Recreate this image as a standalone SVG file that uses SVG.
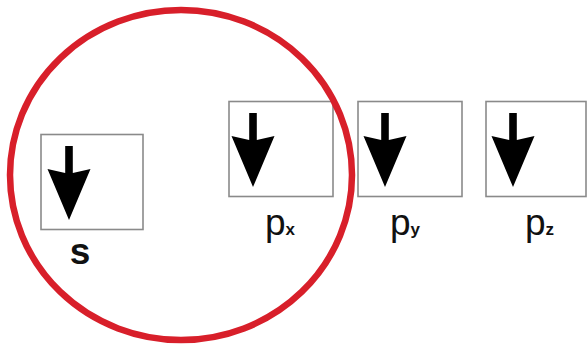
<svg xmlns="http://www.w3.org/2000/svg" xmlns:xlink="http://www.w3.org/1999/xlink" width="587" height="347" viewBox="0 0 587 347">
  <style>
    .box { fill: #ffffff; stroke: #8a8a8a; stroke-width: 1.6; }
    .arrow { fill: #000000; }
    .lbl { font-family: "Liberation Sans", Arial, sans-serif; font-size: 37px; fill: #111111; }
    .sub { font-size: 17px; font-weight: bold; }
    .ring { fill: none; stroke: #d81f2a; stroke-width: 6.5; }
  </style>
  <defs>
    <path id="down" d="M -3.8 0 L 3.8 0 L 3.8 27 L 21.5 23 L 0 74 L -21.5 23 L -3.8 27 Z"/>
  </defs>
  <rect width="587" height="347" fill="#ffffff"/>

  <g id="orbital-s">
    <rect class="box" x="41" y="134.5" width="102" height="95"/>
    <use xlink:href="#down" class="arrow" x="69" y="146"/>
    <text class="lbl" x="80" y="264" text-anchor="middle" font-weight="bold" font-size="35">s</text>
  </g>

  <g id="orbital-px">
    <rect class="box" x="229" y="101.5" width="104" height="95"/>
    <use xlink:href="#down" class="arrow" x="253" y="113"/>
    <text class="lbl" x="265" y="235">p<tspan class="sub">x</tspan></text>
  </g>

  <g id="orbital-py">
    <rect class="box" x="358" y="101.5" width="104" height="95"/>
    <use xlink:href="#down" class="arrow" x="385" y="113"/>
    <text class="lbl" x="390" y="235">p<tspan class="sub">y</tspan></text>
  </g>

  <g id="orbital-pz">
    <rect class="box" x="486" y="101.5" width="100" height="95"/>
    <use xlink:href="#down" class="arrow" x="513" y="113"/>
    <text class="lbl" x="525" y="235">p<tspan class="sub">z</tspan></text>
  </g>

  <g id="highlight">
    <ellipse class="ring" cx="181" cy="175" rx="171" ry="165"/>
  </g>
</svg>
